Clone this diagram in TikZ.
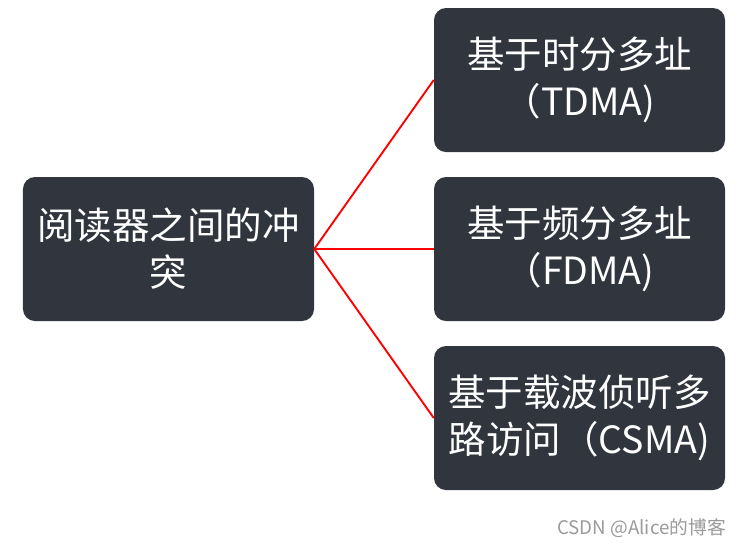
\documentclass[tikz,border=0pt]{standalone}
\usepackage{fontspec}
\setmainfont{Noto Sans CJK SC}
\usetikzlibrary{positioning}
\definecolor{slate}{HTML}{31353E}
\definecolor{wire}{HTML}{FF0000}
\definecolor{mark}{HTML}{9A9A9A}

\begin{document}
\begin{tikzpicture}[x=0.03cm, y=-0.03cm,
          box/.style={draw=none, fill=slate, rounded corners=0.36cm, minimum width=8.73cm,
            minimum height=4.32cm, inner sep=0pt, text=white, align=center,
            font=\fontsize{32}{40}\selectfont},
          link/.style={draw=wire, line width=1.6pt}]
        \useasboundingbox (0,0) rectangle (740,548);
        \node[box] (src) at (168.5,249) {阅读器之间的冲\\突};
        \node[box] (tdma) at (579.5,80) {基于时分多址\\（TDMA)};
        \node[box] (fdma) at (579.5,249) {基于频分多址\\（FDMA)};
        \node[box] (csma) at (579.5,418) {基于载波侦听多\\路访问（CSMA)};
        \foreach \t in {tdma,fdma,csma} \draw[link] (src.east) -- (\t.west);
        \node[anchor=east, text=mark, font=\fontsize{16}{18}\selectfont, inner sep=0pt] (wm) at (726,528) {CSDN @Alice的博客};
      \end{tikzpicture}
\end{document}
